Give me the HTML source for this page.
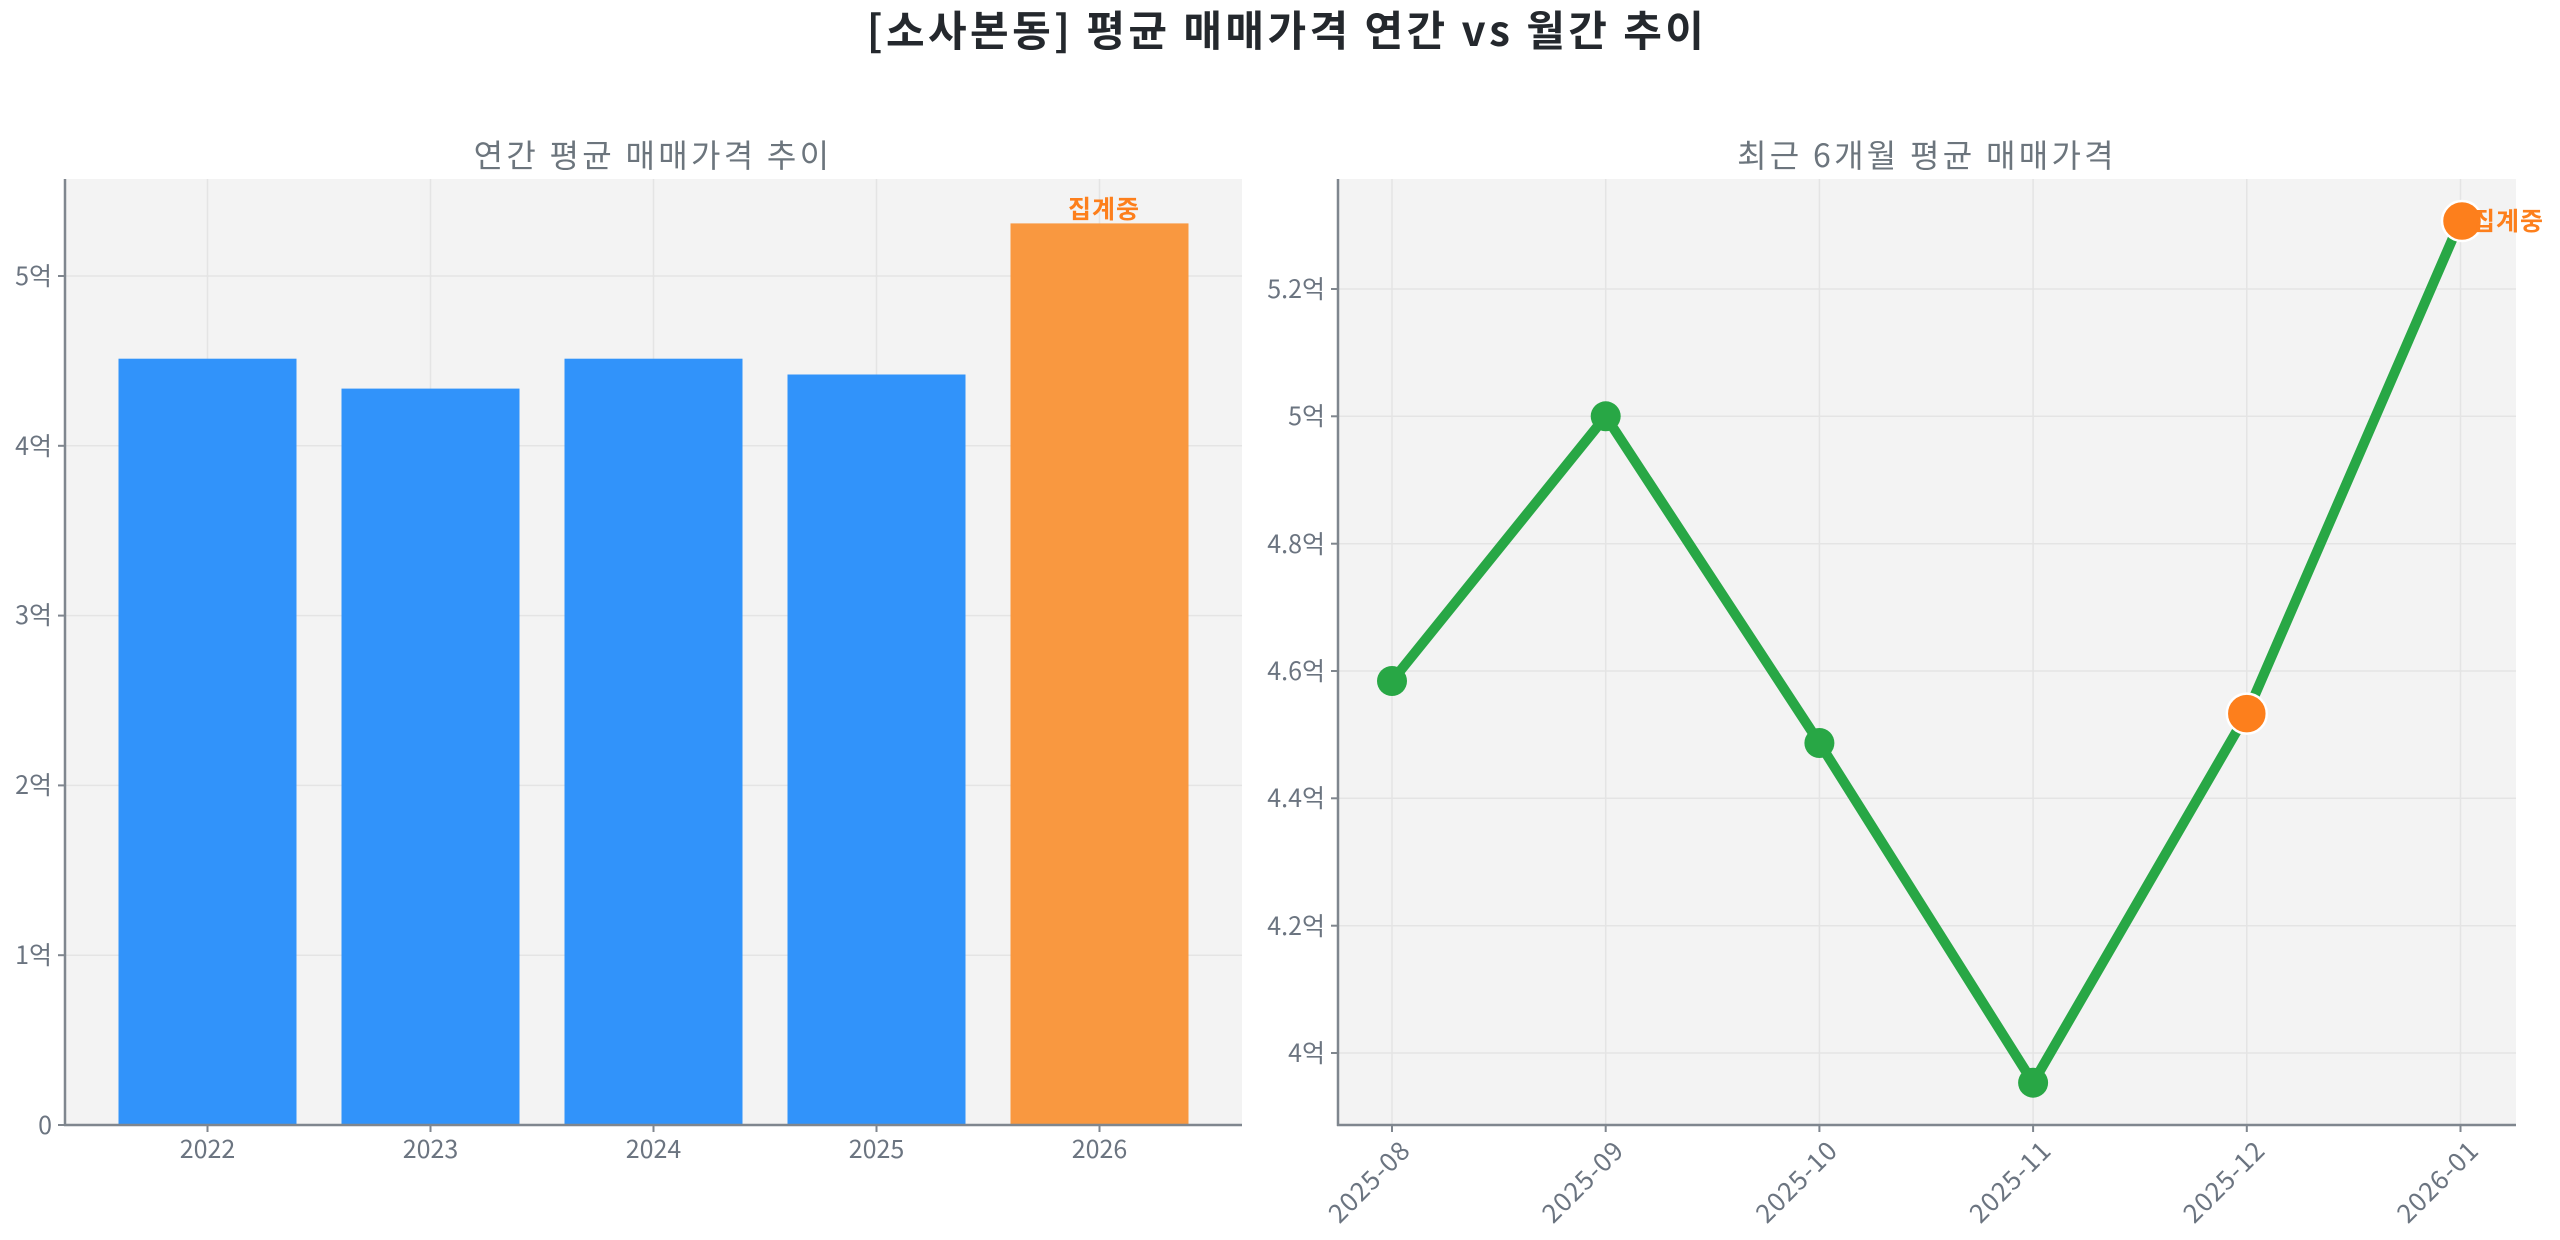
<!DOCTYPE html>
<html><head><meta charset="utf-8"><style>
html,body{margin:0;padding:0;background:#fff;}
svg text{font-family:"Noto Sans CJK KR","Liberation Sans",sans-serif;}
</style></head><body>
<svg width="2560" height="1235" viewBox="0 0 2560 1235" xmlns="http://www.w3.org/2000/svg">
<rect width="2560" height="1235" fill="#fff"/>
<text x="1287" y="46" text-anchor="middle" font-size="42" font-weight="bold" fill="#24282d" letter-spacing="3.4">[소사본동] 평균 매매가격 연간 vs 월간 추이</text>

<!-- LEFT -->
<text x="653" y="167" text-anchor="middle" font-size="32" fill="#6c757d" letter-spacing="3.3">연간 평균 매매가격 추이</text>
<rect x="65" y="179" width="1177" height="946" fill="#f3f3f3"/>
<g stroke="#e4e4e4" stroke-width="1.5">
<line x1="65" x2="1242" y1="955.2" y2="955.2"/><line x1="65" x2="1242" y1="785.4" y2="785.4"/>
<line x1="65" x2="1242" y1="615.6" y2="615.6"/><line x1="65" x2="1242" y1="445.8" y2="445.8"/>
<line x1="65" x2="1242" y1="276" y2="276"/>
<line x1="207.5" x2="207.5" y1="179" y2="1125"/><line x1="430.5" x2="430.5" y1="179" y2="1125"/>
<line x1="653.5" x2="653.5" y1="179" y2="1125"/><line x1="876.5" x2="876.5" y1="179" y2="1125"/>
<line x1="1099.5" x2="1099.5" y1="179" y2="1125"/>
</g>
<g fill="#3193fa">
<rect x="118.5" y="358.7" width="178" height="766.3"/>
<rect x="341.5" y="388.6" width="178" height="736.4"/>
<rect x="564.5" y="358.7" width="178" height="766.3"/>
<rect x="787.5" y="374.5" width="178" height="750.5"/>
</g>
<rect x="1010.5" y="223.4" width="178" height="901.6" fill="#f99840"/>
<text x="1104" y="218" text-anchor="middle" font-size="25" font-weight="bold" fill="#fd7f1c" letter-spacing="1">집계중</text>
<g stroke="#7f868e" stroke-width="2.5"><line x1="65" y1="179" x2="65" y2="1126"/><line x1="64" y1="1125" x2="1242" y2="1125"/></g>
<g stroke="#7f868e" stroke-width="2">
<line x1="58" x2="65" y1="1125" y2="1125"/><line x1="58" x2="65" y1="955.2" y2="955.2"/><line x1="58" x2="65" y1="785.4" y2="785.4"/><line x1="58" x2="65" y1="615.6" y2="615.6"/><line x1="58" x2="65" y1="445.8" y2="445.8"/><line x1="58" x2="65" y1="276" y2="276"/>
<line x1="207.5" x2="207.5" y1="1125" y2="1132"/><line x1="430.5" x2="430.5" y1="1125" y2="1132"/><line x1="653.5" x2="653.5" y1="1125" y2="1132"/><line x1="876.5" x2="876.5" y1="1125" y2="1132"/><line x1="1099.5" x2="1099.5" y1="1125" y2="1132"/>
</g>
<g font-size="25" fill="#6b7480" text-anchor="end">
<text x="52" y="1134">0</text><text x="52" y="964">1억</text><text x="52" y="794">2억</text><text x="52" y="624">3억</text><text x="52" y="455">4억</text><text x="52" y="285">5억</text>
</g>
<g font-size="25" fill="#6b7480" text-anchor="middle">
<text x="207.5" y="1158">2022</text><text x="430.5" y="1158">2023</text><text x="653.5" y="1158">2024</text><text x="876.5" y="1158">2025</text><text x="1099.5" y="1158">2026</text>
</g>

<!-- RIGHT -->
<text x="1927" y="167" text-anchor="middle" font-size="32" fill="#6c757d" letter-spacing="3.3">최근 6개월 평균 매매가격</text>
<rect x="1338" y="179" width="1178" height="946" fill="#f3f3f3"/>
<g stroke="#e4e4e4" stroke-width="1.5">
<line x1="1338" x2="2516" y1="1053" y2="1053"/><line x1="1338" x2="2516" y1="925.7" y2="925.7"/><line x1="1338" x2="2516" y1="798.3" y2="798.3"/><line x1="1338" x2="2516" y1="671" y2="671"/><line x1="1338" x2="2516" y1="543.7" y2="543.7"/><line x1="1338" x2="2516" y1="416.3" y2="416.3"/><line x1="1338" x2="2516" y1="289" y2="289"/>
<line x1="1392" x2="1392" y1="179" y2="1125"/><line x1="1605.7" x2="1605.7" y1="179" y2="1125"/><line x1="1819.4" x2="1819.4" y1="179" y2="1125"/><line x1="2033.1" x2="2033.1" y1="179" y2="1125"/><line x1="2246.8" x2="2246.8" y1="179" y2="1125"/><line x1="2460.5" x2="2460.5" y1="179" y2="1125"/>
</g>
<polyline points="1392,681 1605.7,416.3 1819.4,743 2033.1,1082.7 2246.8,713.6 2460.5,220.5" fill="none" stroke="#28a745" stroke-width="10" stroke-linejoin="round"/>
<g fill="#28a745">
<circle cx="1392" cy="681" r="15"/><circle cx="1605.7" cy="416.3" r="15"/><circle cx="1819.4" cy="743" r="15"/><circle cx="2033.1" cy="1082.7" r="15"/>
</g>
<g fill="#fd7f1c" stroke="#fff" stroke-width="2.5">
<circle cx="2246.8" cy="713.6" r="20"/><circle cx="2462" cy="221" r="20"/>
</g>
<text x="2472" y="230" font-size="25" font-weight="bold" fill="#fd7f1c" letter-spacing="1">집계중</text>
<g stroke="#7f868e" stroke-width="2.5"><line x1="1338" y1="179" x2="1338" y2="1126"/><line x1="1337" y1="1125" x2="2516" y2="1125"/></g>
<g stroke="#7f868e" stroke-width="2">
<line x1="1331" x2="1338" y1="1053" y2="1053"/><line x1="1331" x2="1338" y1="925.7" y2="925.7"/><line x1="1331" x2="1338" y1="798.3" y2="798.3"/><line x1="1331" x2="1338" y1="671" y2="671"/><line x1="1331" x2="1338" y1="543.7" y2="543.7"/><line x1="1331" x2="1338" y1="416.3" y2="416.3"/><line x1="1331" x2="1338" y1="289" y2="289"/>
<line x1="1392" x2="1392" y1="1125" y2="1132"/><line x1="1605.7" x2="1605.7" y1="1125" y2="1132"/><line x1="1819.4" x2="1819.4" y1="1125" y2="1132"/><line x1="2033.1" x2="2033.1" y1="1125" y2="1132"/><line x1="2246.8" x2="2246.8" y1="1125" y2="1132"/><line x1="2460.5" x2="2460.5" y1="1125" y2="1132"/>
</g>
<g font-size="25" fill="#6b7480" text-anchor="end">
<text x="1325" y="1062">4억</text><text x="1325" y="935">4.2억</text><text x="1325" y="807">4.4억</text><text x="1325" y="680">4.6억</text><text x="1325" y="553">4.8억</text><text x="1325" y="425">5억</text><text x="1325" y="298">5.2억</text>
</g>
<g font-size="26" fill="#6b7480" text-anchor="end" letter-spacing="1">
<text transform="translate(1412,1152) rotate(-45)">2025-08</text>
<text transform="translate(1625.7,1152) rotate(-45)">2025-09</text>
<text transform="translate(1839.4,1152) rotate(-45)">2025-10</text>
<text transform="translate(2053.1,1152) rotate(-45)">2025-11</text>
<text transform="translate(2266.8,1152) rotate(-45)">2025-12</text>
<text transform="translate(2480.5,1152) rotate(-45)">2026-01</text>
</g>
</svg>
</body></html>
